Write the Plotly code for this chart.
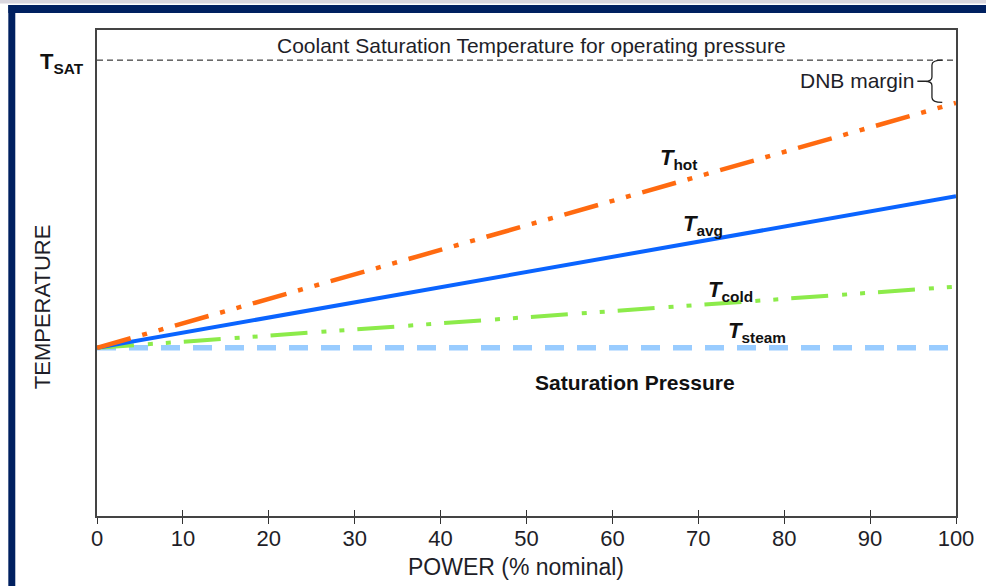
import plotly.graph_objects as go

# ---- data ----
power = [0, 100]
t_hot = [34.6, 85.0]
t_avg = [34.6, 65.8]
t_cold = [34.6, 47.2]
t_steam = [34.6, 34.6]
t_sat = 93.8
x_ticks = [0, 10, 20, 30, 40, 50, 60, 70, 80, 90, 100]

FONT = "Liberation Sans, Arial, sans-serif"
INK = "#1e1e28"
NAVY = "#002060"

fig = go.Figure()

fig.add_trace(go.Scatter(x=power, y=t_steam, mode="lines", name="T steam",
                         line=dict(color="#99CCFF", width=5.5, dash="19px,13px"),
                         hoverinfo="skip"))
fig.add_trace(go.Scatter(x=power, y=t_cold, mode="lines", name="T cold",
                         line=dict(color="#8CEB4A", width=4,
                                   dash="37px,14px,5px,13px,5px,13px"),
                         hoverinfo="skip"))
fig.add_trace(go.Scatter(x=power, y=t_avg, mode="lines", name="T avg",
                         line=dict(color="#0A64FF", width=4),
                         hoverinfo="skip"))
fig.add_trace(go.Scatter(x=power, y=t_hot, mode="lines", name="T hot",
                         line=dict(color="#FF6A10", width=4.5,
                                   dash="35px,12px,5px,12px,5px,12px"),
                         hoverinfo="skip"))
# invisible helper trace so the overlay axis (inward tick halves) is drawn
fig.add_trace(go.Scatter(x=power, y=t_steam, xaxis="x2", mode="lines",
                         line=dict(width=0), opacity=0, hoverinfo="skip",
                         showlegend=False))

# T_SAT dashed line
fig.add_trace(go.Scatter(x=power, y=[t_sat, t_sat], mode="lines",
                         line=dict(color="#111111", width=1, dash="6px,4px"),
                         hoverinfo="skip"))

# brace for DNB margin (between T_SAT and T_hot at full power)
ytop = t_sat
ybot = t_hot[-1] + 0.1
ymid = (ytop + ybot) / 2
xr = power[-1] - 1.6
xv = power[-1] - 2.8
xt = power[-1] - 3.6
xl = power[-1] - 4.5
brace = (f"M {xr},{ytop} Q {xv},{ytop} {xv},{ytop-1.0} L {xv},{ymid+0.9} "
         f"Q {xv},{ymid} {xt},{ymid} Q {xv},{ymid} {xv},{ymid-0.9} "
         f"L {xv},{ybot+1.0} Q {xv},{ybot} {xr},{ybot} "
         f"M {xt},{ymid} L {xl},{ymid}")

shapes = [
    dict(type="path", path=brace, xref="x", yref="y",
         line=dict(color="#222222", width=1.3)),
    # page decoration: gray band, navy top and left borders
    dict(type="rect", xref="paper", yref="paper", x0=-0.2, x1=1.1,
         y0=(516 - 3.5) / 486, y1=1.2, fillcolor="#D9D6DE", line=dict(width=0),
         layer="below"),
    dict(type="rect", xref="paper", yref="paper", x0=(8 - 97) / 862, x1=1.1,
         y0=(516 - 13) / 486, y1=(516 - 5) / 486, fillcolor=NAVY,
         line=dict(width=0)),
    dict(type="rect", xref="paper", yref="paper", x0=(8 - 97) / 862,
         x1=(15 - 97) / 862, y0=-0.3, y1=(516 - 5) / 486, fillcolor=NAVY,
         line=dict(width=0)),
]

def tlabel(sub):
    return f"<b><i>T</i></b><sub><b>{sub}</b></sub>"

C = dict(xanchor="center", yanchor="middle", showarrow=False)

annotations = [
    dict(x=50.6, y=96.9, xref="x", yref="y",
         text="Coolant Saturation Temperature for operating pressure",
         font=dict(size=21, color=INK), **C),
    dict(x=-0.0406, y=t_sat - 0.6, xref="paper", yref="y",
         text="<b>T<sub>SAT</sub></b>", font=dict(size=22, color="#111111"), **C),
    dict(x=power[-1] - 4.7, y=ymid + 0.1, xref="x", yref="y", text="DNB margin",
         xanchor="right", yanchor="middle", showarrow=False,
         font=dict(size=21, color=INK)),
    dict(x=67.7, y=73.4, xref="x", yref="y", text=tlabel("hot"),
         font=dict(size=22, color="#111111"), **C),
    dict(x=70.6, y=59.8, xref="x", yref="y", text=tlabel("avg"),
         font=dict(size=22, color="#111111"), **C),
    dict(x=73.8, y=46.2, xref="x", yref="y", text=tlabel("cold"),
         font=dict(size=22, color="#111111"), **C),
    dict(x=76.8, y=37.8, xref="x", yref="y", text=tlabel("steam"),
         font=dict(size=22, color="#111111"), **C),
    dict(x=62.6, y=27.4, xref="x", yref="y", text="<b>Saturation Pressure</b>",
         font=dict(size=21, color="#111111"), **C),
    dict(x=(517 - 97) / 862, y=(516 - 567) / 486, xref="paper", yref="paper",
         text="POWER (% nominal)", font=dict(size=23, color=INK), **C),
    dict(x=(42 - 97) / 862, y=(516 - 307) / 486, xref="paper", yref="paper",
         text="TEMPERATURE", textangle=-90, font=dict(size=22, color=INK), **C),
]

fig.update_layout(
    width=986, height=586,
    margin=dict(l=97, r=27, t=30, b=70),
    paper_bgcolor="white", plot_bgcolor="white",
    showlegend=False,
    font=dict(family=FONT, color=INK),
    xaxis=dict(range=[power[0], power[-1]], tickmode="array", tickvals=x_ticks,
               ticktext=[str(v) for v in x_ticks], ticks="outside", ticklen=6,
               tickwidth=1.3, tickcolor="#333333", showline=True,
               linecolor="#444444", linewidth=1.5, mirror=True,
               showgrid=False, zeroline=False, ticklabelstandoff=-4,
               tickfont=dict(size=22, color=INK)),
    xaxis2=dict(range=[power[0], power[-1]], overlaying="x", side="bottom",
                anchor="y", tickmode="array", tickvals=x_ticks, ticks="inside",
                ticklen=6, tickwidth=1.3, tickcolor="#333333",
                showticklabels=False, showline=False, showgrid=False,
                zeroline=False),
    yaxis=dict(range=[0, 100], showticklabels=False, ticks="", showline=True,
               linecolor="#444444", linewidth=1.5, mirror=True,
               showgrid=False, zeroline=False),
    shapes=shapes,
    annotations=annotations,
)

fig.write_html("out.html")
